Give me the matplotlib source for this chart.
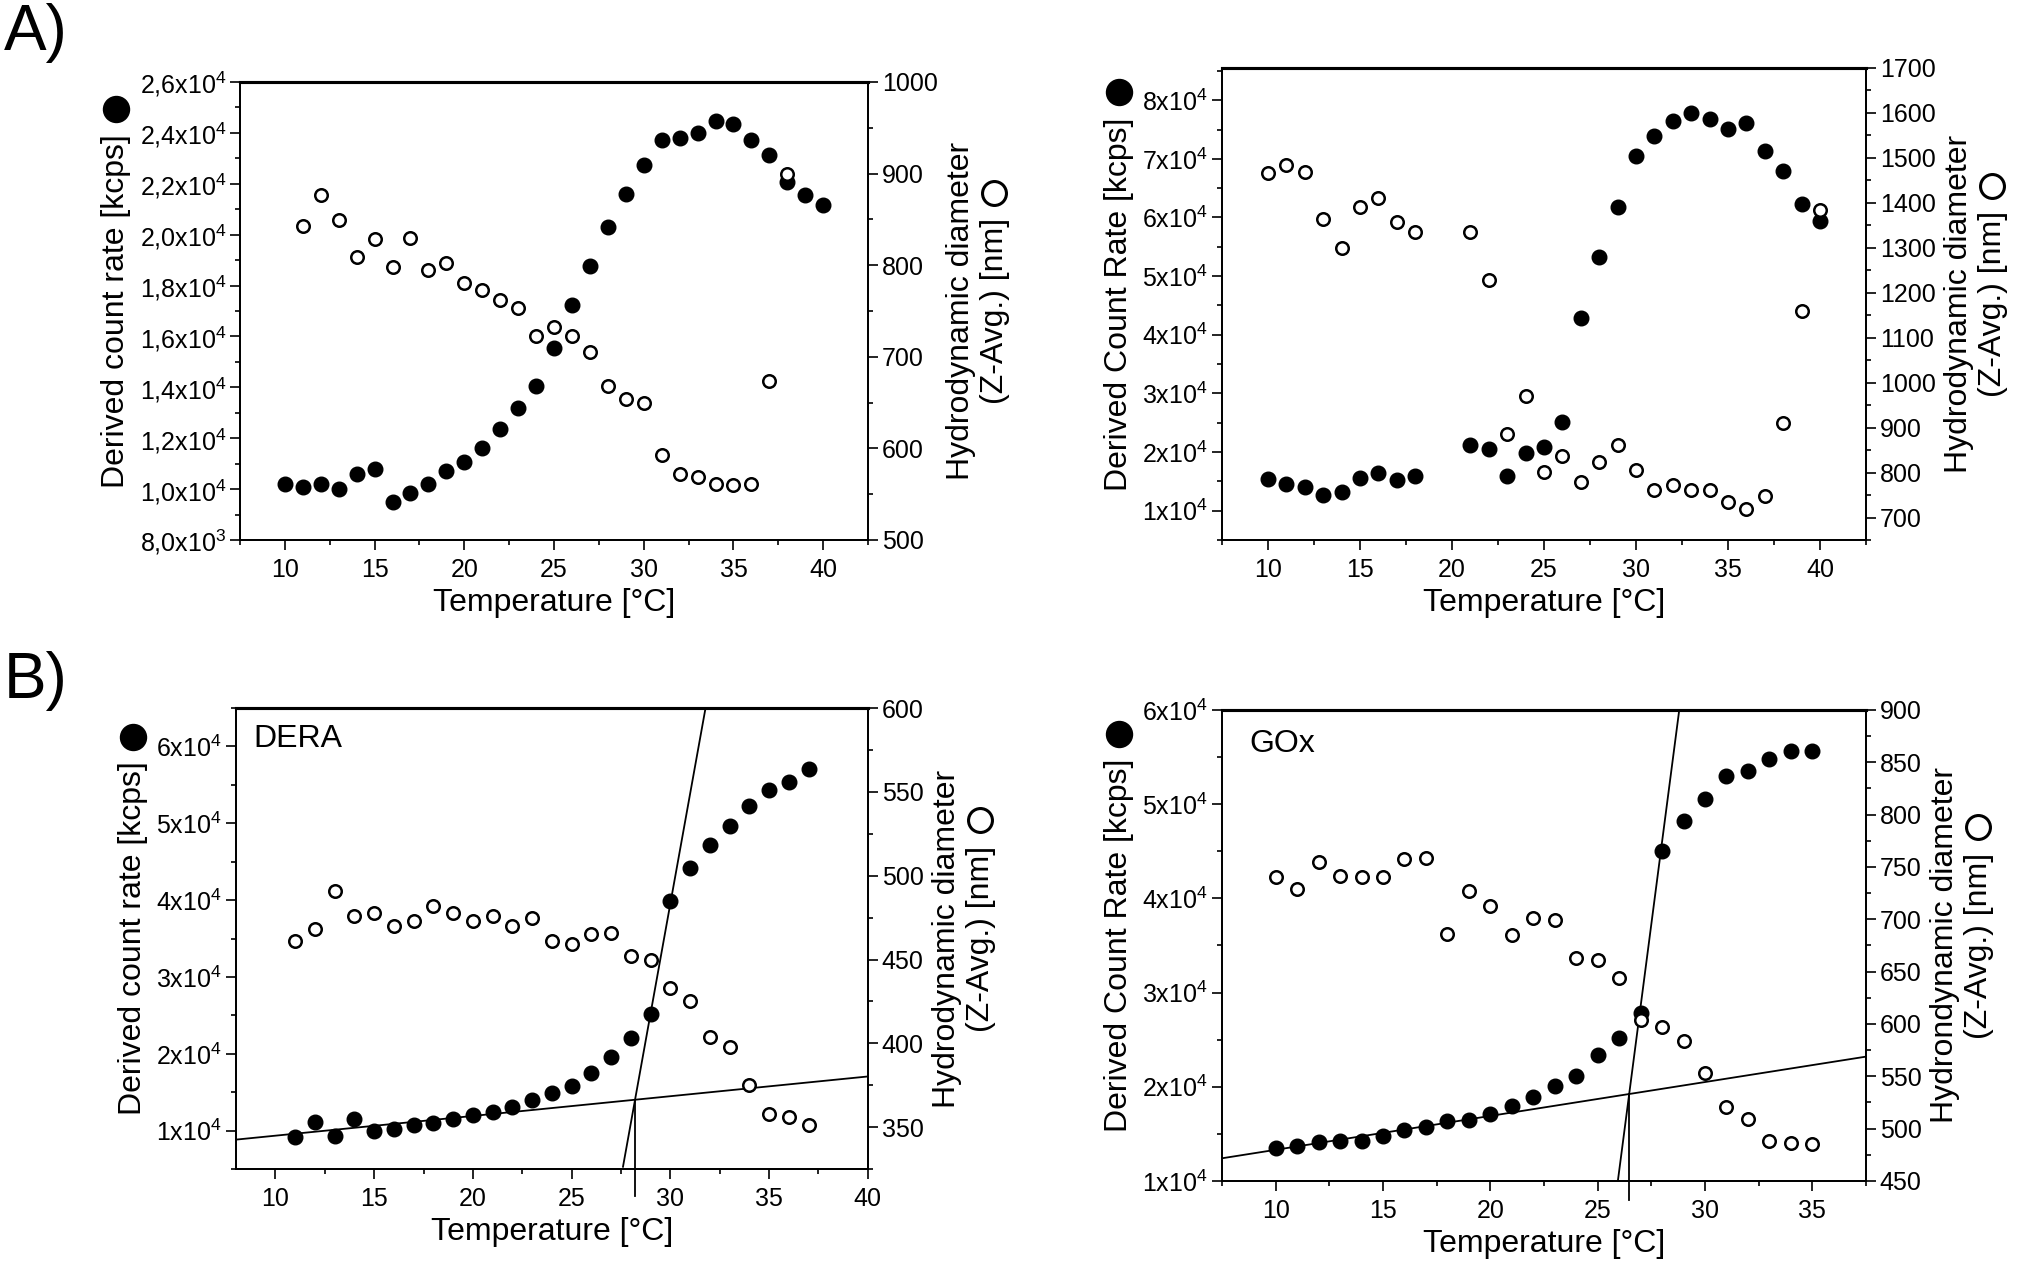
import matplotlib
matplotlib.use('Agg')
import matplotlib.pyplot as plt
from matplotlib.lines import Line2D
from matplotlib.ticker import MultipleLocator, FixedLocator, FixedFormatter
import numpy as np

plt.rcParams['font.family'] = ['Liberation Sans', 'DejaVu Sans']
plt.rcParams['mathtext.fontset'] = 'custom'
plt.rcParams['mathtext.rm'] = 'Liberation Sans'
plt.rcParams['mathtext.it'] = 'Liberation Sans:italic'
plt.rcParams['mathtext.bf'] = 'Liberation Sans:bold'

# ---------------- data ----------------
# Panel A (left)
a1_temp_count = list(range(10, 41))
a1_count = [10200, 10100, 10200, 10000, 10600, 10800, 9500, 9860, 10200, 10730,
            11080, 11620, 12360, 13180, 14070, 15550, 17250, 18780, 20310, 21590,
            22740, 23730, 23780, 24010, 24450, 24340, 23730, 23120, 22050, 21560, 21150]
a1_temp_size = list(range(11, 39))
a1_size = [843, 877, 849, 809, 828, 798, 830, 795, 802, 780, 773, 762, 753, 723,
           732, 723, 705, 668, 654, 649, 593, 572, 569, 561, 560, 561, 673, 899]

# Panel A (right)
a2_temp = list(range(10, 19)) + list(range(21, 41))
a2_count = [15420, 14540, 14090, 12650, 13100, 15530, 16420, 15310, 15970,
            21170, 20510, 15860, 19850, 20840, 25040, 42850, 53250, 61770, 70400,
            73830, 76480, 77810, 76810, 75150, 76150, 71280, 67960, 62320, 59340]
a2_size = [1466, 1484, 1469, 1365, 1299, 1390, 1410, 1357, 1336,
           1335, 1228, 886, 971, 801, 837, 779, 824, 862, 805,
           761, 772, 761, 761, 735, 720, 748, 911, 1160, 1383]

# Panel B (left, DERA)
b1_temp = list(range(11, 38))
b1_count = [9160, 11090, 9330, 11510, 10000, 10250, 10670, 11010, 11510, 12010,
            12430, 13020, 14030, 14870, 15790, 17470, 19560, 22080, 25180, 39950,
            44230, 47170, 49600, 52200, 54380, 55390, 57060]
b1_size = [461, 468, 491, 476, 478, 470, 473, 482, 478, 473, 476, 470, 475, 461,
           459, 465, 466, 452, 450, 433, 425, 404, 398, 375, 358, 356, 351]
dera_base_x = [8, 40]
dera_base_y = [8830, 17050]
dera_steep_x = [27.6, 31.78]
dera_steep_y = [5300, 65000]

# Panel B (right, GOx)
b2_temp = list(range(10, 36))
b2_count = [13510, 13710, 14130, 14260, 14260, 14750, 15360, 15780, 16330, 16460,
            17080, 17980, 18870, 20110, 21140, 23340, 25130, 27880, 45010, 48240,
            50510, 52990, 53530, 54770, 55600, 55670]
b2_size = [740, 729, 755, 741, 740, 740, 758, 759, 686, 727, 713, 685, 701, 699,
           663, 661, 644, 604, 597, 584, 553, 521, 509, 488, 486, 485]
gox_base_x = [7.5, 37.5]
gox_base_y = [12410, 23200]
gox_steep_x = [25.94, 28.80]
gox_steep_y = [10000, 60000]

# tick labels
a1_yticks = [8000, 10000, 12000, 14000, 16000, 18000, 20000, 22000, 24000, 26000]
a1_yticklabels = [r'8,0x10$^{\mathrm{3}}$', r'1,0x10$^{\mathrm{4}}$', r'1,2x10$^{\mathrm{4}}$',
                  r'1,4x10$^{\mathrm{4}}$', r'1,6x10$^{\mathrm{4}}$', r'1,8x10$^{\mathrm{4}}$',
                  r'2,0x10$^{\mathrm{4}}$', r'2,2x10$^{\mathrm{4}}$', r'2,4x10$^{\mathrm{4}}$',
                  r'2,6x10$^{\mathrm{4}}$']
a2_yticks = [10000, 20000, 30000, 40000, 50000, 60000, 70000, 80000]
a2_yticklabels = [r'%dx10$^{\mathrm{4}}$' % i for i in range(1, 9)]
b_yticks = [10000, 20000, 30000, 40000, 50000, 60000]
b_yticklabels = [r'%dx10$^{\mathrm{4}}$' % i for i in range(1, 7)]

# ---------------- figure ----------------
fig = plt.figure(figsize=(20.32, 12.82), dpi=100)

TICK_FS = 18
LAB_FS = 23
LAST_LINE = '(Z-Avg.) [nm]'


def make_panel(rect, xlim, xmajor, ylim_l, yticks, yticklabels, yminor,
               ylim_r, rmajor, rminor, t_c, count, t_s, size, ylab_l, ylab_r):
    ax = fig.add_axes(rect)
    ax2 = ax.twinx()
    ax.plot(t_c, count, linestyle='none', marker='o', ms=10.5, color='black', zorder=3)
    ax2.plot(t_s, size, linestyle='none', marker='o', ms=9, mfc='white', mec='black',
             mew=1.8, zorder=3)
    ax.set_xlim(*xlim)
    ax.set_ylim(*ylim_l)
    ax2.set_ylim(*ylim_r)
    ax.xaxis.set_major_locator(MultipleLocator(xmajor))
    ax.xaxis.set_minor_locator(MultipleLocator(xmajor / 2))
    ax.yaxis.set_major_locator(FixedLocator(yticks))
    ax.yaxis.set_major_formatter(FixedFormatter(yticklabels))
    ax.yaxis.set_minor_locator(MultipleLocator(yminor))
    ax2.yaxis.set_major_locator(MultipleLocator(rmajor))
    ax2.yaxis.set_minor_locator(MultipleLocator(rminor))
    for a in (ax, ax2):
        a.tick_params(which='both', direction='out', labelsize=TICK_FS, width=1.2, pad=3)
        a.tick_params(which='major', length=7)
        a.tick_params(which='minor', length=3.5)
        for s in a.spines.values():
            s.set_linewidth(1.3)
        a.spines['top'].set_linewidth(2.2)
    ax.tick_params(axis='x', pad=6)
    ax.set_xlabel('Temperature [°C]', fontsize=LAB_FS, labelpad=4)
    ax.set_ylabel(ylab_l, fontsize=LAB_FS, labelpad=6)
    ax2.set_ylabel(ylab_r + '\n' + LAST_LINE, fontsize=LAB_FS, labelpad=6, linespacing=1.15)
    return ax, ax2


def add_fit_lines(ax, bx, by, sx, sy, below):
    ax.plot(bx, by, color='black', lw=1.3, zorder=2)
    ax.plot(sx, sy, color='black', lw=1.3, zorder=2)
    mb = (by[1] - by[0]) / (bx[1] - bx[0])
    ms = (sy[1] - sy[0]) / (sx[1] - sx[0])
    xi = (sy[0] - ms * sx[0] - by[0] + mb * bx[0]) / (mb - ms)
    yi = by[0] + mb * (xi - bx[0])
    y0, y1 = ax.get_ylim()
    fi = (yi - y0) / (y1 - y0)
    ax.plot([xi, xi], [fi, below], color='black', lw=1.3, clip_on=False,
            transform=ax.get_xaxis_transform(), zorder=2)


panels = []
# A left
panels.append(make_panel([0.1181, 0.5788, 0.3091, 0.3573], (7.5, 42.5), 5,
                         (8000, 26000), a1_yticks, a1_yticklabels, 1000,
                         (500, 1000), 100, 50,
                         a1_temp_count, a1_count, a1_temp_size, a1_size,
                         'Derived count rate [kcps]', 'Hydrodynamic diameter'))

# A right
panels.append(make_panel([0.6014, 0.5788, 0.3169, 0.3682], (7.5, 42.5), 5,
                         (5000, 85500), a2_yticks, a2_yticklabels, 5000,
                         (650, 1700), 100, 50,
                         a2_temp, a2_count, a2_temp, a2_size,
                         'Derived Count Rate [kcps]', 'Hydrodynamic diameter'))

# B left
axb1, axb1r = make_panel([0.1161, 0.0881, 0.3110, 0.3596], (8, 40), 5,
                         (5000, 65000), b_yticks, b_yticklabels, 5000,
                         (325, 600), 50, 25,
                         b1_temp, b1_count, b1_temp, b1_size,
                         'Derived count rate [kcps]', 'Hydrodynamic diameter')
panels.append((axb1, axb1r))
add_fit_lines(axb1, dera_base_x, dera_base_y, dera_steep_x, dera_steep_y, -0.058)
axb1.text(0.027, 0.965, 'DERA', transform=axb1.transAxes, fontsize=LAB_FS, va='top', ha='left')

# B right
axb2, axb2r = make_panel([0.6014, 0.0788, 0.3169, 0.3674], (7.5, 37.5), 5,
                         (10000, 60000), b_yticks, b_yticklabels, 5000,
                         (450, 900), 50, 25,
                         b2_temp, b2_count, b2_temp, b2_size,
                         'Derived Count Rate [kcps]', 'Hydrondynamic diameter')
panels.append((axb2, axb2r))
add_fit_lines(axb2, gox_base_x, gox_base_y, gox_steep_x, gox_steep_y, -0.04)
axb2.text(0.042, 0.96, 'GOx', transform=axb2.transAxes, fontsize=LAB_FS, va='top', ha='left')

fig.text(0.002, 0.998, 'A)', fontsize=46, va='top', ha='left')
fig.text(0.002, 0.492, 'B)', fontsize=46, va='top', ha='left')

# symbol circles at the end of the y-axis labels
fig.canvas.draw()
renderer = fig.canvas.get_renderer()
tmp = fig.text(0, 0, LAST_LINE, fontsize=LAB_FS)
w_last = tmp.get_window_extent(renderer).width
tmp.remove()
inv = fig.transFigure.inverted()
RAD = 13.0   # px
GAP = 12.0   # px
for ax, ax2 in panels:
    bb = ax.yaxis.label.get_window_extent(renderer)
    cx = 0.5 * (bb.x0 + bb.x1)
    cy = bb.y1 + GAP + RAD
    fx, fy = inv.transform((cx, cy))
    fig.add_artist(Line2D([fx], [fy], marker='o', ms=2 * RAD * 0.72, color='black',
                          linestyle='none', transform=fig.transFigure))
    bb2 = ax2.yaxis.label.get_window_extent(renderer)
    lh = (bb2.x1 - bb2.x0) / 2.0
    cx2 = bb2.x1 - lh * 0.5
    cy2 = 0.5 * (bb2.y0 + bb2.y1) + w_last / 2.0 + GAP + RAD
    fx2, fy2 = inv.transform((cx2, cy2))
    fig.add_artist(Line2D([fx2], [fy2], marker='o', ms=2 * RAD * 0.72 - 1.5, mfc='white',
                          mec='black', mew=2.2, linestyle='none', transform=fig.transFigure))

fig.savefig('out.png', dpi=100)
